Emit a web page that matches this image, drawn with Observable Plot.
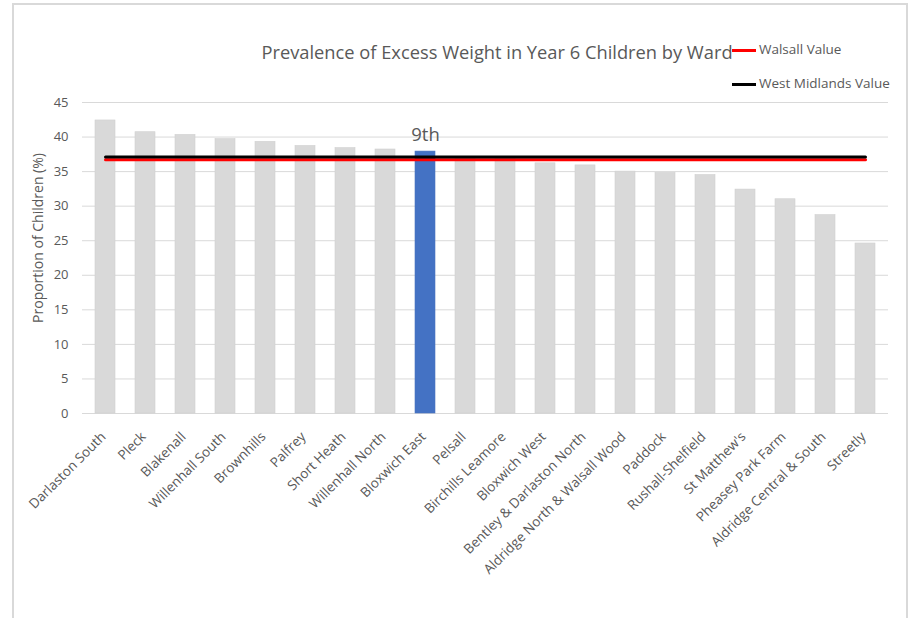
<!DOCTYPE html>
<html><head><meta charset="utf-8">
<script src="https://cdn.jsdelivr.net/npm/d3@7"></script>
<script src="https://cdn.jsdelivr.net/npm/@observablehq/plot@0.6"></script>
<style>
body{margin:0;background:#fff;font-family:"Open Sans",sans-serif;}
#wrap{position:relative;width:912px;height:618px;overflow:hidden;background:#fff;}
#frame{position:absolute;left:12px;top:3px;width:896px;height:660px;border:2px solid #d9d9d9;box-sizing:border-box;}
#chart{position:absolute;left:0;top:0;}
#title{position:absolute;left:497px;top:39px;transform:translateX(-50%);font-size:18.3px;color:#595959;white-space:nowrap;}
.leg{position:absolute;font-size:13.5px;color:#595959;white-space:nowrap;}
.sw{position:absolute;height:3px;width:24px;}
</style>
</head><body>
<div id="wrap">
  <div id="frame"></div>
  <div id="chart"></div>
  <div id="title">Prevalence of Excess Weight in Year 6 Children by Ward</div>
  <div class="sw" style="left:732px;top:49px;background:#ff0000"></div>
  <div class="leg" style="left:759px;top:40px;">Walsall Value</div>
  <div class="sw" style="left:732px;top:83px;background:#000000"></div>
  <div class="leg" style="left:759px;top:74px;">West Midlands Value</div>
</div>
<script>
const wards = ["Darlaston South","Pleck","Blakenall","Willenhall South","Brownhills","Palfrey","Short Heath","Willenhall North","Bloxwich East","Pelsall","Birchills Leamore","Bloxwich West","Bentley & Darlaston North","Aldridge North & Walsall Wood","Paddock","Rushall-Shelfield","St Matthew's","Pheasey Park Farm","Aldridge Central & South","Streetly"];
const values = [42.4,40.7,40.3,39.7,39.3,38.7,38.4,38.2,37.9,37.0,36.8,36.2,35.9,35.0,34.8,34.5,32.4,31.0,28.7,24.6];
const highlightWard = "Bloxwich East";
const highlightLabel = "9th";
const walsallValue = 36.7;
const westMidlandsValue = 37.1;
const yTicks = [0,5,10,15,20,25,30,35,40,45];
const yLabel = "Proportion of Children (%)";

const data = wards.map((w,i)=>({ward:w, value:values[i]}));
const grey = "#595959";

const chart = Plot.plot({
  width: 912, height: 618,
  marginLeft: 82, marginRight: 24, marginTop: 102, marginBottom: 205,
  style: {fontFamily: "'Open Sans', sans-serif", background: "transparent", overflow: "visible"},
  x: {domain: wards, paddingInner: 0.5, paddingOuter: 0.25},
  y: {domain: [0,45]},
  marks: [
    Plot.ruleY(yTicks, {stroke: "#d9d9d9", strokeWidth: 1}),
    Plot.barY(data, {x: "ward", y: "value",
      fill: d => d.ward === highlightWard ? "#4472c4" : "#d9d9d9",
      stroke: d => d.ward === highlightWard ? "#4a74c0" : "#d0d0d0", strokeWidth: 0.6}),
    Plot.lineY(wards, {x: d => d, y: () => walsallValue, stroke: "#ff0000", strokeWidth: 3}),
    Plot.lineY(wards, {x: d => d, y: () => westMidlandsValue, stroke: "#000000", strokeWidth: 3}),
    Plot.text(data.filter(d => d.ward === highlightWard), {x: "ward", y: "value", text: () => highlightLabel, dy: -16, fontSize: 18.5, fill: grey}),
    Plot.axisY({ticks: yTicks, tickSize: 0, tickPadding: 14, fontSize: 13, color: grey, label: null}),
    Plot.axisX({tickSize: 0, tickRotate: -45, tickPadding: 15, dy: 6, dx: -2, fontSize: 13.5, color: grey, label: null}),
    Plot.text([yLabel], {frameAnchor: "left", textAnchor: "middle", rotate: -90, dx: -44, dy: -20, fontSize: 14, fill: grey})
  ]
});
document.getElementById("chart").appendChild(chart);
</script>
</body></html>
